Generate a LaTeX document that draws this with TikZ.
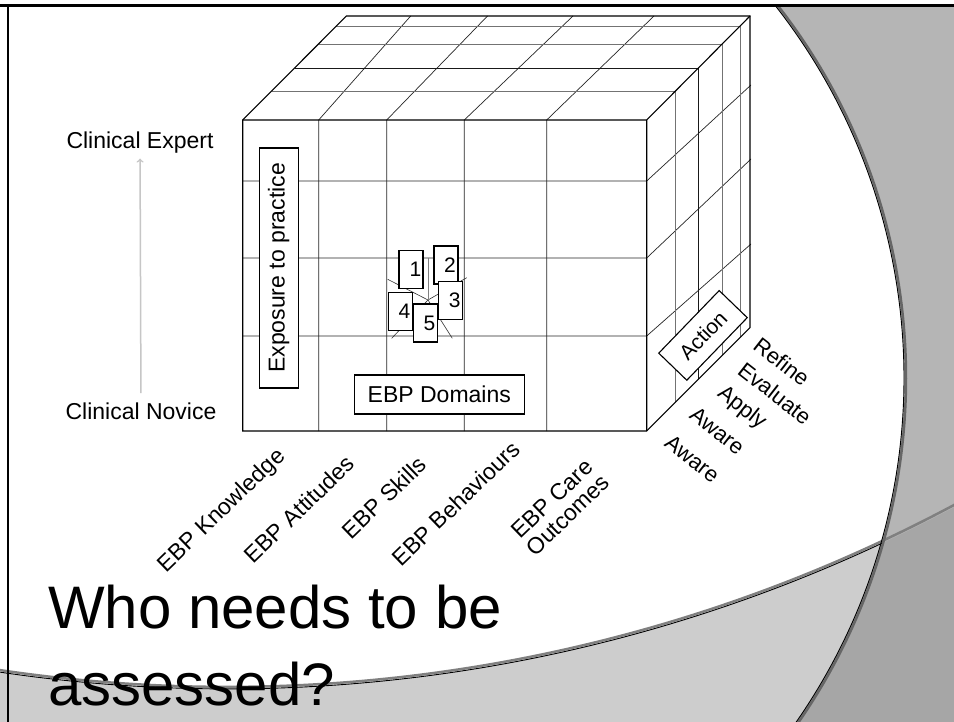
\documentclass[tikz,border=0pt]{standalone}
\usepackage{fontspec}
\setmainfont{Liberation Sans}
\usetikzlibrary{arrows,positioning}
\newcommand{\setsz}[1]{\fontsize{#1}{#1}\selectfont}
\definecolor{bandgray}{HTML}{CDCDCD}
\definecolor{sidegray}{HTML}{B5B5B5}
\definecolor{bothgray}{HTML}{A6A6A6}

\begin{document}
\begin{tikzpicture}[x=1pt,y=-1pt,
  gridline/.style={line width=0.7pt,black!85},
  depthline/.style={line width=0.8pt,black!55},
  rim/.style={line width=1.1pt},
  spoke/.style={line width=0.6pt,black!80},
  framebox/.style={draw,line width=1.1pt,fill=white,inner sep=0pt,font=\setsz{23}},
  tagbox/.style={draw,line width=1.6pt,fill=white,minimum width=24pt,minimum height=38pt,
                 text width=20pt,align=right,inner sep=2pt,font=\setsz{21}},
  lbl/.style={font=\setsz{23}},
  axislbl/.style={font=\setsz{23},rotate=44,align=center},
  stagelbl/.style={font=\setsz{22},rotate=-38}]
  \useasboundingbox (0,0) rectangle (954,722);
  \fill[white] (0,0) rectangle (954,722);

  \coordinate (c1) at (301,378);
  \coordinate (c2) at (227,-856);

  \begin{scope}
    \clip (0,5) rectangle (954,722);
    \fill[bandgray] (0,672.2) arc[start angle=98.45,end angle=61.93,radius=1545]
      -- (954,722) -- (0,722) -- cycle;
    \fill[sidegray] (770.8,0) arc[start angle=-38.82,end angle=34.79,radius=603]
      -- (954,722) -- (954,0) -- cycle;
    \begin{scope}
      \clip (0,672.2) arc[start angle=98.45,end angle=61.93,radius=1545]
        -- (954,722) -- (0,722) -- cycle;
      \fill[bothgray] (770.8,0) arc[start angle=-38.82,end angle=34.79,radius=603]
        -- (954,722) -- (954,0) -- cycle;
    \end{scope}
    \draw[gray,line width=2.5pt] (c2) ++(98.6:1543) arc[start angle=98.6,end angle=60,radius=1543];
    \draw[line width=0.9pt] (c2) ++(98.6:1545) arc[start angle=98.6,end angle=64.87,radius=1545];
    \draw[gray!80!black,line width=2.5pt] (c1) ++(-40:605) arc[start angle=-40,end angle=36,radius=605];
    \draw[line width=0.9pt] (c1) ++(-40:603) arc[start angle=-40,end angle=36,radius=603];
  \end{scope}
  \draw[line width=2.5pt] (0,5.5) -- (954,5.5);
  \draw[line width=2pt] (8.3,5.5) -- (8.3,722);

  \coordinate (ftl) at (242.7,120);
  \coordinate (ftr) at (646.7,120);
  \coordinate (fbl) at (242.7,431);
  \coordinate (fbr) at (646.7,431);
  \coordinate (btl) at (346.4,16);
  \coordinate (btr) at (750,16);
  \coordinate (bbr) at (750,327.7);

  \foreach \x/\t in {318.7/410.7,386.7/487.5,464.3/573,546.7/654}
    \draw[gridline] (\t,16) -- (\x,120) -- (\x,431);
  \foreach \y/\e in {181/85,258/159,336/244}
    \draw[gridline] (242.7,\y) -- (646.7,\y) -- (751,\e);
  \foreach \d/\c in {29/55,52/90,76/55,93.5/55}
    \draw[depthline,black!\c] ({242.7+\d},{120-\d}) -- ({646.7+\d},{120-\d}) -- ({646.7+\d},{431-\d});
  \draw[rim] (fbl) -- (ftl) -- (btl) -- (btr) -- (bbr) -- (fbr) -- cycle;
  \draw[rim] (ftl) -- (ftr) -- (fbr) (ftr) -- (btr);

  \coordinate (hub) at (428,300);
  \coordinate (s1) at (387.7,279.3);
  \coordinate (s2) at (428,258);
  \coordinate (s3) at (466.7,277.7);
  \coordinate (s4) at (391.7,338.3);
  \coordinate (s5) at (452.3,338.3);
  \path[spoke] (hub) edge (s1) edge (s3) edge (s4) edge (s5);
  \path[spoke,gray] (hub) edge (s2);

  \node[tagbox] (n1) at (411.2,269.5) {1};
  \node[tagbox] (n2) at (445.7,265.2) {2};
  \node[tagbox] (n3) at (450.5,300.5) {3};
  \node[tagbox] (n4) at (400.3,311.7) {4};
  \node[tagbox] (n5) at (425.3,323.3) {5};

  \node[framebox,rotate=90,minimum width=240pt,minimum height=39pt] (expo) at (278.7,268) {Exposure to practice};
  \node[framebox,minimum width=170pt,minimum height=39pt] (domains) at (439.3,394.5) {EBP Domains};
  \node[framebox,rotate=46,minimum width=87pt,minimum height=39pt,font=\setsz{21}] (action) at (703,335.4) {Action};

  \node[lbl,anchor=base] (expert) at (140,148.3) {Clinical Expert};
  \node[lbl,anchor=base] (novice) at (141,419.3) {Clinical Novice};
  \draw[->,gray!45,line width=1.5pt,shorten <=6pt,shorten >=2pt] (novice) -- (expert);

  \node[axislbl] (know) at (222.5,511) {EBP Knowledge};
  \node[axislbl] (atti) at (299.2,509.2) {EBP Attitudes};
  \node[axislbl] (skill) at (384.2,497.4) {EBP Skills};
  \node[axislbl] (behav) at (455.8,503.3) {EBP Behaviours};
  \node[axislbl] (care) at (560,507) {EBP Care\\Outcomes};

  \node[stagelbl] (refine) at (781.7,361.7) {Refine};
  \node[stagelbl] (evaluate) at (775,393.3) {Evaluate};
  \node[stagelbl] (apply) at (741.7,408.3) {Apply};
  \node[stagelbl] (aware) at (717.3,430.7) {Aware};
  \node[stagelbl] (aware2) at (692.3,459) {Aware};

  \node[font=\fontsize{60}{77}\selectfont,align=left,anchor=base west,inner sep=0pt] (title) at (48,705) {Who needs to be\\assessed?};
\end{tikzpicture}
\end{document}
